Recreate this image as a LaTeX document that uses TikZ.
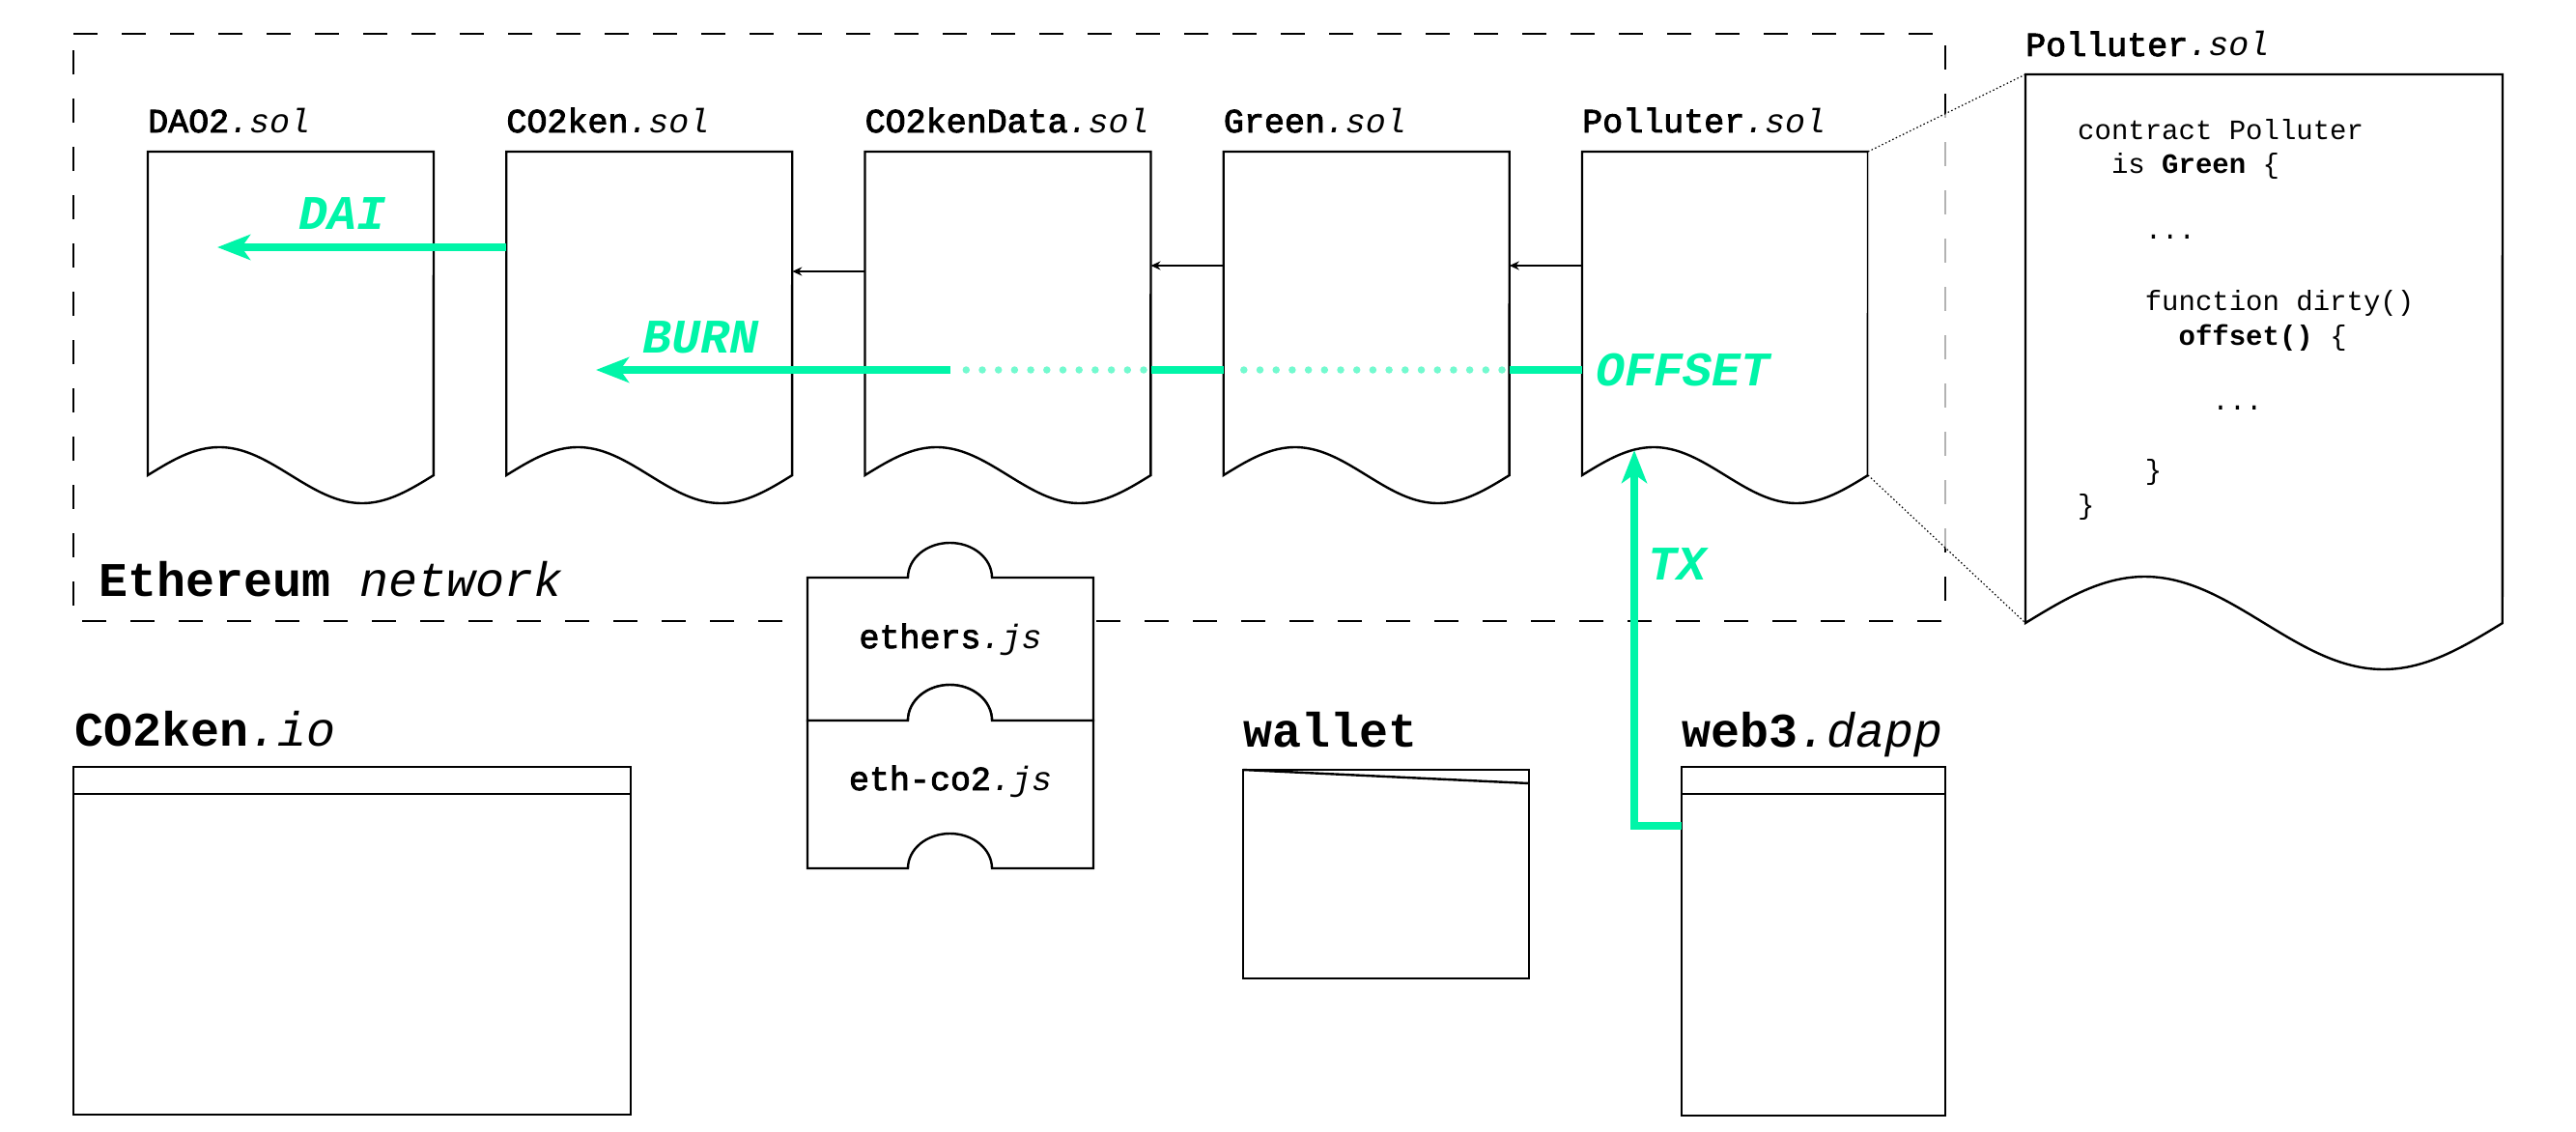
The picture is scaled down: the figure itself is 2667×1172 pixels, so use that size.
\documentclass[tikz,border=0pt]{standalone}
\usepackage{fontspec}
\usetikzlibrary{arrows.meta,calc}
\newfontfamily\plex{Liberation Mono}
\newfontfamily\plexmed[FakeBold=2.6]{Liberation Mono}
\definecolor{mint}{HTML}{00F5A8}
\newcommand\docshape[2]{%
  \draw[docline] let \p1=(#1.south west), \p2=(#1.north east) in
    (\x1,\y2) -- (\p1) -- plot[domain=0:1,samples=90,variable=\t]
    ({\x1+\t*(\x2-\x1)},{\y1+#2*sin(360*\t)}) -- (\p2) -- cycle;}
\begin{document}
\begin{tikzpicture}[x=1pt,y=-1pt,
  docbox/.style={anchor=north west,minimum width=296pt,minimum height=335pt,inner sep=0pt,outer sep=0pt},
  docline/.style={draw=black,line width=2.4pt,fill=white,line join=miter},
  winbox/.style={draw=black,line width=2.4pt,fill=white,anchor=north west,inner sep=0pt,outer sep=0pt},
  netbox/.style={draw=black,line width=2.2pt,dash pattern=on 25pt off 25pt},
  doclabel/.style={anchor=base west,inner sep=0pt,font=\fontsize{35}{40}\selectfont\plexmed},
  biglabel/.style={anchor=base west,inner sep=0pt,font=\fontsize{50}{60}\selectfont\plex\bfseries},
  codeline/.style={anchor=base west,inner sep=0pt,font=\fontsize{29}{35}\selectfont\plex},
  minttext/.style={anchor=base west,inner sep=0pt,text=mint,font=\fontsize{50}{60}\selectfont\plex\bfseries\itshape},
  mintline/.style={draw=mint,line width=8pt},
  mintarrow/.style={draw=mint,line width=8pt,-{Stealth[length=34pt,width=26pt,inset=9pt]}},
  mintdots/.style={draw=mint!55,line width=7.5pt,line cap=round,dash pattern=on 0pt off 16.7pt},
  thinarrow/.style={draw=black,line width=1.8pt,-{Stealth[length=10pt,width=9pt]}},
  zoomline/.style={draw=black,line width=1.2pt,dash pattern=on 1.5pt off 2.5pt},
]
\useasboundingbox (0,0) rectangle (2667,1172);
\fill[white] (0,0) rectangle (2667,1172);

% Ethereum network container
\coordinate (netNW) at (76,35);
\coordinate (netSE) at (2014,643);
\draw[netbox] (netNW) -- (netSE |- netNW) -- (netSE) -- (netNW |- netSE) -- cycle;

% contract documents
\node[docbox] (dao) at (153,157) {};
\node[docbox] (co2ken) at (524.25,157) {};
\node[docbox] (kendata) at (895.5,157) {};
\node[docbox] (green) at (1266.75,157) {};
\node[docbox] (pol) at (1638,157) {};
\docshape{dao}{29}
\docshape{co2ken}{29}
\docshape{kendata}{29}
\docshape{green}{29}
\docshape{pol}{29}

\node[doclabel] (daoL) at (153,137) {DAO2{\plex\itshape.sol}};
\node[doclabel] (co2kenL) at (524.25,137) {CO2ken{\plex\itshape.sol}};
\node[doclabel] (kendataL) at (895.5,137) {CO2kenData{\plex\itshape.sol}};
\node[doclabel] (greenL) at (1266.75,137) {Green{\plex\itshape.sol}};
\node[doclabel] (polL) at (1638,137) {Polluter{\plex\itshape.sol}};

% zoom region
\node[docbox,minimum width=494pt,minimum height=568pt] (bigdoc) at (2097,77) {};
\fill[white,fill opacity=0.7] (pol.north east) -- (bigdoc.north west) -- (bigdoc.south west) -- (pol.south east) -- cycle;
\draw[zoomline] (pol.north east) -- (bigdoc.north west);
\draw[zoomline] (pol.south east) -- (bigdoc.south west);
\docshape{bigdoc}{48}
\node[doclabel] (bigdocL) at (2097,58) {Polluter{\plex\itshape.sol}};

\node[codeline] (code1) at (2151,144) {contract Polluter};
\node[codeline] (code2) at (2185.8,179) {is \textbf{Green} \{};
\node[codeline] (code3) at (2220.6,247) {...};
\node[codeline] (code4) at (2220.6,321) {function dirty()};
\node[codeline] (code5) at (2255.4,357) {\textbf{offset()} \{};
\node[codeline] (code6) at (2290.2,424) {...};
\node[codeline] (code7) at (2220.6,496) {\}};
\node[codeline] (code8) at (2151,532) {\}};

% inheritance arrows
\coordinate (yA) at (0,281);
\coordinate (yB) at (0,275);
\draw[thinarrow] (kendata.west |- yA) -- (co2ken.east |- yA);
\draw[thinarrow] (green.west |- yB) -- (kendata.east |- yB);
\draw[thinarrow] (pol.west |- yB) -- (green.east |- yB);

% DAI
\coordinate (daiy) at (0,256);
\coordinate (daitip) at (225,256);
\draw[mintarrow] (co2ken.west |- daiy) -- (daitip);
\node[minttext] (dai) at (309,237) {DAI};

% BURN / OFFSET
\coordinate (burny) at (0,383);
\coordinate (burnstart) at (984,383);
\coordinate (burntip) at (617,383);
\coordinate (dotsAa) at (1555,383);
\coordinate (dotsAb) at (1275,383);
\coordinate (dotsBa) at (1184,383);
\coordinate (dotsBb) at (992,383);
\draw[mintline] (pol.west |- burny) -- (green.east |- burny);
\draw[mintdots] (dotsAa) -- (dotsAb);
\draw[mintline] (green.west |- burny) -- (kendata.east |- burny);
\draw[mintdots] (dotsBa) -- (dotsBb);
\draw[mintarrow] (burnstart) -- (burntip);
\node[minttext] (burn) at (665,365) {BURN};
\node[minttext] (offset) at (1652,399) {OFFSET};

% libraries (puzzle pieces)
\draw[docline] (836,598) -- (940,598) arc[start angle=180,end angle=0,x radius=43.5pt,y radius=36pt]
  -- (1132,598) -- (1132,746) -- (1027,746) arc[start angle=0,end angle=180,x radius=43.5pt,y radius=37pt]
  -- (836,746) -- cycle;
\draw[docline] (836,746) -- (940,746) arc[start angle=180,end angle=0,x radius=43.5pt,y radius=37pt]
  -- (1132,746) -- (1132,899) -- (1027,899) arc[start angle=0,end angle=180,x radius=43.5pt,y radius=36pt]
  -- (836,899) -- cycle;
\node[doclabel,anchor=base] (ethers) at (984,671) {ethers{\plex\itshape.js}};
\node[doclabel,anchor=base] (ethco2) at (984,818) {eth-co2{\plex\itshape.js}};

\node[biglabel] (netL) at (102,617) {Ethereum {\mdseries\itshape network}};

% windows
\node[winbox,minimum width=577pt,minimum height=360pt] (io) at (76,794) {};
\draw[docline] ([yshift=-28pt]io.north west) -- ([yshift=-28pt]io.north east);
\node[biglabel] (ioL) at (77,772) {CO2ken{\mdseries\itshape.io}};

\node[winbox,minimum width=296pt,minimum height=216pt] (wallet) at (1287,797) {};
\draw[docline] (wallet.north west) -- ([yshift=-14pt]wallet.north east);
\node[biglabel] (walletL) at (1287,773) {wallet};

\node[winbox,minimum width=273pt,minimum height=361pt] (web3) at (1741,794) {};
\draw[docline] ([yshift=-28pt]web3.north west) -- ([yshift=-28pt]web3.north east);
\node[biglabel] (web3L) at (1741,773) {web3{\mdseries\itshape.dapp}};

% TX
\coordinate (txturn) at (1692,855);
\coordinate (txtip) at (1692,466);
\draw[mintarrow] (web3.west |- txturn) -- (txturn) -- (txtip);
\node[minttext] (tx) at (1706,600) {TX};
\end{tikzpicture}
\end{document}
